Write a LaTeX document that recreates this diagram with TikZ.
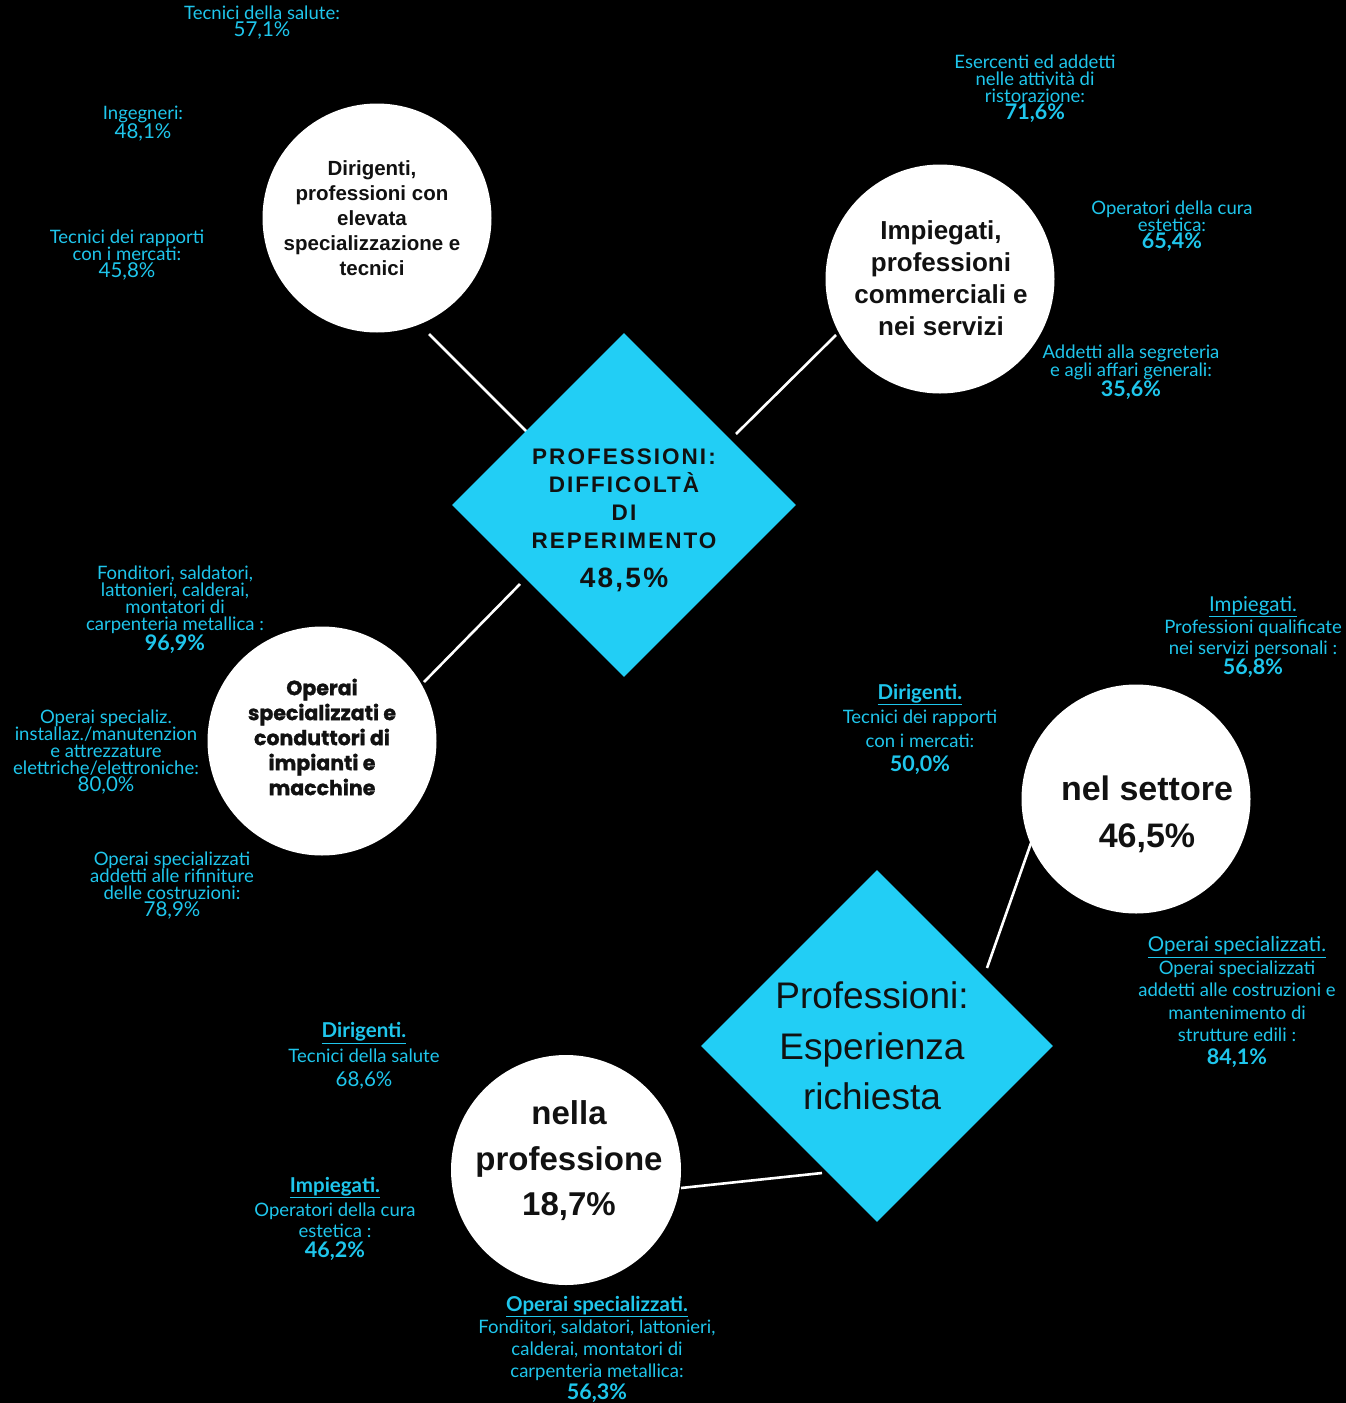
\documentclass[tikz,border=0pt]{standalone}
\usepackage{fontspec}
\setmainfont{Liberation Sans}
\newfontfamily\labfont{Lato}
\newfontfamily\spacedfont[LetterSpace=9]{Liberation Sans}
\newfontfamily\spacednum[LetterSpace=8]{Liberation Sans}
\newfontfamily\geofont[BoldFeatures={FakeBold=1.2}]{Poppins}
\usetikzlibrary{shapes.geometric}
\definecolor{cy}{HTML}{22CEF5}
\definecolor{labc}{HTML}{1FC6EC}
\definecolor{ink}{HTML}{111111}
\newcommand{\pctb}[1]{{\fontsize{21.5}{17}\selectfont\textbf{#1}}}
\newcommand{\pctr}[1]{{\fontsize{20.5}{17}\selectfont #1}}
\tikzset{
  bubble/.style={circle, fill=white, draw=none, minimum size=229pt, inner sep=0pt},
  gem/.style={diamond, fill=cy, draw=none, inner sep=0pt},
  conn/.style={draw=white, line width=2.6pt},
  ctext/.style={text=ink, align=center, inner sep=0pt},
  lab/.style={text=labc, align=center, inner sep=0pt, font=\labfont\fontsize{18.5}{17}\selectfont},
  labw/.style={text=labc, align=center, inner sep=0pt, font=\labfont\fontsize{18.5}{22}\selectfont},
}
\begin{document}
\begin{tikzpicture}[x=1pt,y=-1pt]
\fill[black] (0,0) rectangle (1346,1403);
\useasboundingbox (0,0) rectangle (1346,1403);

% connectors (end points)
\coordinate (a1) at (429,334); \coordinate (a2) at (529,434);
\coordinate (b1) at (836,335); \coordinate (b2) at (736,434);
\coordinate (c1) at (424,682); \coordinate (c2) at (520,584);
\coordinate (d1) at (1031,843); \coordinate (d2) at (987,968);
\coordinate (e1) at (681,1188); \coordinate (e2) at (822,1173);
\draw[conn] (a1) -- (a2);
\draw[conn] (b1) -- (b2);
\draw[conn] (c1) -- (c2);
\draw[conn] (d1) -- (d2);
\draw[conn] (e1) -- (e2);

% diamonds
\node[gem, minimum width=344pt, minimum height=344pt] (D1) at (624,505) {};
\node[gem, minimum width=352pt, minimum height=352pt] (D2) at (877,1046) {};

% circles
\node[bubble] (A) at (377,218) {};
\node[bubble] (B) at (940,279) {};
\node[bubble] (C) at (322,741) {};
\node[bubble] (D) at (1136,799) {};
\node[bubble, minimum size=230pt] (E) at (566,1170) {};

% circle texts
\node[ctext, font=\bfseries\fontsize{20.5}{25}\selectfont] (At) at (372,218)
  {Dirigenti,\\professioni con\\elevata\\specializzazione e\\tecnici};
\node[ctext, font=\bfseries\fontsize{26}{32}\selectfont] (Bt) at (941,278)
  {Impiegati,\\professioni\\commerciali e\\nei servizi};
\node[ctext, font=\geofont\bfseries\fontsize{20.5}{25}\selectfont] (Ct) at (322,737)
  {Operai\\specializzati e\\conduttori di\\impianti e\\macchine};
\node[ctext, font=\bfseries\fontsize{34}{47}\selectfont] (Dt) at (1147,814)
  {nel settore\\46,5\%};
\node[ctext, font=\bfseries\fontsize{33}{45.5}\selectfont] (Et) at (569,1161)
  {nella\\professione\\18,7\%};

% diamond texts
\node[ctext, font=\spacedfont\bfseries\fontsize{22.5}{28}\selectfont] (D1t) at (624,499)
  {PROFESSIONI:\\DIFFICOLTÀ\\DI\\REPERIMENTO};
\node[ctext, font=\spacednum\bfseries\fontsize{28}{28}\selectfont] (D1n) at (624,580) {48,5\%};
\node[ctext, font=\fontsize{37}{50.5}\selectfont] (D2t) at (872,1046)
  {Professioni:\\Esperienza\\richiesta};

% labels: difficolta
\node[lab] (l1) at (262,23) {Tecnici della salute:\\\pctr{57,1\%}};
\node[lab] (l2) at (143,124) {Ingegneri:\\\pctr{48,1\%}};
\node[lab] (l3) at (127,255) {Tecnici dei rapporti\\con i mercati:\\\pctr{45,8\%}};
\node[lab] (l4) at (1035,89) {Esercenti ed addetti\\nelle attività di\\ristorazione:\\\pctb{71,6\%}};
\node[lab] (l5) at (1172,226) {Operatori della cura\\estetica:\\\pctb{65,4\%}};
\node[lab] (l6) at (1131,372) {Addetti alla segreteria\\e agli affari generali:\\\pctb{35,6\%}};
\node[lab] (l7) at (175,610) {Fonditori, saldatori,\\lattonieri, calderai,\\montatori di\\carpenteria metallica :\\\pctb{96,9\%}};
\node[lab] (l8) at (106,752) {Operai specializ.\\installaz./manutenzion\\e attrezzature\\elettriche/elettroniche:\\\pctr{80,0\%}};
\node[lab] (l9) at (172,886) {Operai specializzati\\addetti alle rifiniture\\delle costruzioni:\\\pctr{78,9\%}};

% labels: esperienza
\node[labw, font=\labfont\fontsize{18.5}{20.5}\selectfont] (m1) at (1253,637)
  {{\fontsize{20.5}{20.5}\selectfont\underline{Impiegati.}}\\[2pt]Professioni qualificate\\nei servizi personali :\\\pctb{56,8\%}};
\node[labw, font=\labfont\fontsize{18.5}{24}\selectfont] (m2) at (920,729)
  {{\fontsize{20.5}{24}\selectfont\textbf{\underline{Dirigenti.}}}\\Tecnici dei rapporti\\con i mercati:\\\pctb{50,0\%}};
\node[labw, font=\labfont\fontsize{18.5}{22.5}\selectfont] (m3) at (1237,1002)
  {{\fontsize{20.5}{22.5}\selectfont\underline{Operai specializzati.}}\\Operai specializzati\\addetti alle costruzioni e\\mantenimento di\\strutture edili :\\\pctb{84,1\%}};
\node[labw, font=\labfont\fontsize{18.5}{24.5}\selectfont] (m4) at (364,1056)
  {{\fontsize{20.5}{24.5}\selectfont\textbf{\underline{Dirigenti.}}}\\Tecnici della salute\\\pctr{68,6\%}};
\node[labw, font=\labfont\fontsize{18.5}{20.5}\selectfont] (m5) at (335,1219)
  {{\fontsize{20.5}{20.5}\selectfont\textbf{\underline{Impiegati.}}}\\[4pt]Operatori della cura\\estetica :\\\pctb{46,2\%}};
\node[labw, font=\labfont\fontsize{18.5}{22}\selectfont] (m6) at (597,1349)
  {{\fontsize{20.5}{22}\selectfont\textbf{\underline{Operai specializzati.}}}\\Fonditori, saldatori, lattonieri,\\calderai, montatori di\\carpenteria metallica:\\\pctb{56,3\%}};
\end{tikzpicture}
\end{document}
